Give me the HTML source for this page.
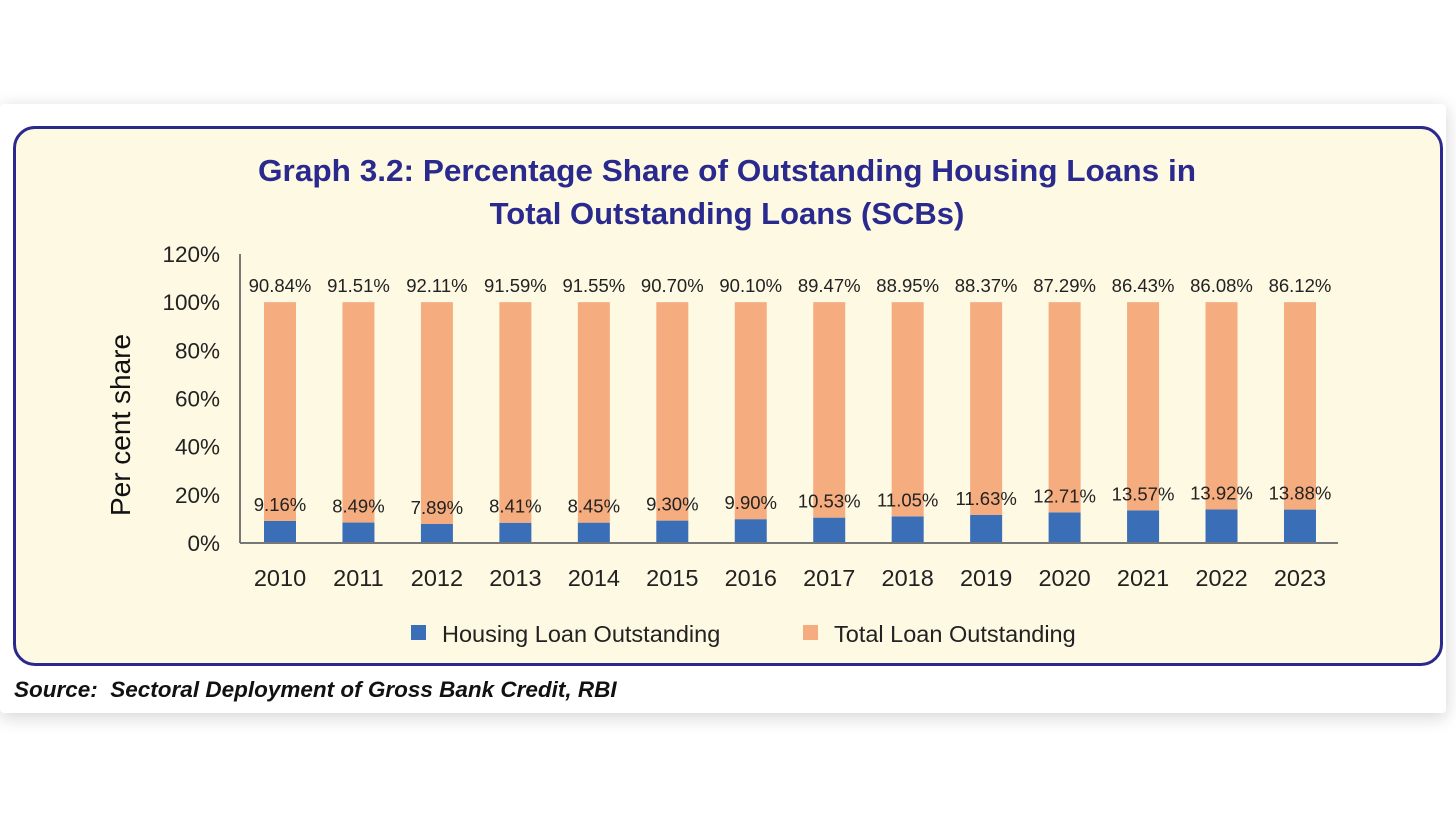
<!DOCTYPE html>
<html><head><meta charset="utf-8"><style>
body{margin:0;width:1456px;height:818px;background:#fff;overflow:hidden;font-family:"Liberation Sans",sans-serif}
#card{position:absolute;left:0;top:104px;width:1446px;height:609px;background:#fff;box-shadow:0 4px 18px rgba(0,0,0,0.18);border-radius:4px}
#panel{position:absolute;left:13px;top:126px;width:1424px;height:534px;background:#fdf9e3;border:3px solid #2a2a8e;border-radius:22px}
#src{position:absolute;left:14px;top:677px;font-weight:bold;font-style:italic;font-size:22.5px;color:#111}
svg{position:absolute;left:0;top:0}
</style></head><body>
<div id="card"></div>
<div id="panel"></div>
<div id="src">Source:&nbsp; Sectoral Deployment of Gross Bank Credit, RBI</div>
<svg id="chart" width="1456" height="818">
<text x="727" y="181" text-anchor="middle" font-size="31" font-weight="bold" fill="#2a2a8e" textLength="938" lengthAdjust="spacingAndGlyphs">Graph 3.2: Percentage Share of Outstanding Housing Loans in</text>
<text x="727" y="224" text-anchor="middle" font-size="31" font-weight="bold" fill="#2a2a8e">Total Outstanding Loans (SCBs)</text>
<text transform="translate(130,425) rotate(-90)" text-anchor="middle" font-size="28" fill="#111">Per cent share</text>
<g id="plot"></g>
<rect x="411" y="625" width="15" height="15" fill="#3a6fb8"/>
<text x="442" y="642" font-size="23.5" fill="#222">Housing Loan Outstanding</text>
<rect x="803" y="625" width="15" height="15" fill="#f5ac7f"/>
<text x="834" y="642" font-size="23.5" fill="#222">Total Loan Outstanding</text>
</svg>
<script>
const years=["2010","2011","2012","2013","2014","2015","2016","2017","2018","2019","2020","2021","2022","2023"];
const housing=[9.16,8.49,7.89,8.41,8.45,9.30,9.90,10.53,11.05,11.63,12.71,13.57,13.92,13.88];
const total=[90.84,91.51,92.11,91.59,91.55,90.70,90.10,89.47,88.95,88.37,87.29,86.43,86.08,86.12];
const yTicks=[0,20,40,60,80,100,120];
const NS="http://www.w3.org/2000/svg";
const g=document.getElementById('plot');
const y0=543,yTop=254,yMax=120;
const y=v=>y0-(v/yMax)*(y0-yTop);
const x=i=>280+i*78.46;
const bw=32;
function mk(t,a){const e=document.createElementNS(NS,t);for(const k in a)e.setAttribute(k,a[k]);g.appendChild(e);return e;}
yTicks.forEach(v=>{const t=mk('text',{x:220,y:y(v)+8,'text-anchor':'end','font-size':22.5,fill:'#222'});t.textContent=v+'%';

});
years.forEach((yr,i)=>{
const b=mk('rect',{x:x(i)-bw/2,y:y(housing[i]),width:bw,height:y0-y(housing[i]),fill:'#3a6fb8'});


const o=mk('rect',{x:x(i)-bw/2,y:y(housing[i]+total[i]),width:bw,height:y(housing[i])-y(housing[i]+total[i]),fill:'#f5ac7f'});


const lt=mk('text',{x:x(i),y:y(housing[i]+total[i])-10,'text-anchor':'middle','font-size':18.5,fill:'#222'});lt.textContent=total[i].toFixed(2)+'%';


const lh=mk('text',{x:x(i),y:y(housing[i])-10,'text-anchor':'middle','font-size':18.5,fill:'#222'});lh.textContent=housing[i].toFixed(2)+'%';


const xt=mk('text',{x:x(i),y:586,'text-anchor':'middle','font-size':23.5,fill:'#222'});xt.textContent=yr;


});
const ya=mk('line',{x1:240,y1:yTop,x2:240,y2:y0,stroke:'#777','stroke-width':2});


const xa=mk('line',{x1:240,y1:y0,x2:1338,y2:y0,stroke:'#777','stroke-width':2});


</script>
</body></html>
